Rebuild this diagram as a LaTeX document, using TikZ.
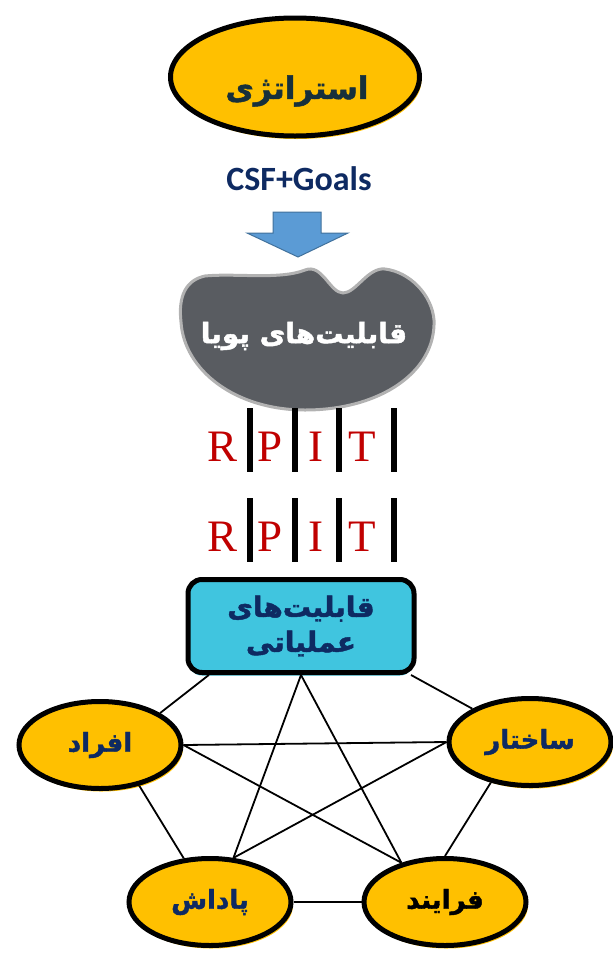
\documentclass[tikz,border=0pt]{standalone}
\usepackage{fontspec}
\usepackage{tikz}
\usetikzlibrary{shapes.geometric,shadows}
\TeXXeTstate=1
\newfontfamily\arabicfont[Script=Arabic, FakeBold=1.6]{DejaVu Sans Bold}
\newfontfamily\latinsans{Carlito}
\newfontfamily\latinserif{Liberation Serif}
\newcommand{\fatext}[1]{{\arabicfont\beginR #1\endR}}

\definecolor{gold}{HTML}{FFC000}
\definecolor{navytext}{HTML}{0E2A62}
\definecolor{darktext}{HTML}{17303B}
\definecolor{opscyan}{HTML}{40C5DF}
\definecolor{dyngray}{HTML}{595C61}
\definecolor{arrowblue}{HTML}{5B9BD5}
\definecolor{arrowedge}{HTML}{41719C}
\definecolor{rpitred}{HTML}{C00000}

\begin{document}
\begin{tikzpicture}[x=1pt,y=-1pt,
    oval/.style={ellipse, draw=black, line width=5pt, fill=gold,
        minimum width=162pt, minimum height=87pt, inner sep=0pt,
        font=\fontsize{26}{30}\selectfont,
        drop shadow={fill=gold, opacity=1, shadow xshift=2pt, shadow yshift=-3pt}},
    rpit/.style={text=rpitred, font=\latinserif\fontsize{45}{50}\selectfont, inner sep=0pt},
    link/.style={draw=black, line width=1.8pt}]

\useasboundingbox (0,0) rectangle (613,956);

% Strategy
\node[oval, minimum width=249pt, minimum height=118pt] (strategy) at (295,77) {};
\node[text=darktext, font=\fontsize{31}{36}\selectfont] (strategytext) at (297,91) {\fatext{استراتژی}};
\node[text=navytext, font=\latinsans\bfseries\fontsize{34}{40}\selectfont] (csf) at (299,179) {CSF+Goals};

% Blue arrow
\draw[fill=arrowblue, draw=arrowedge, line width=1pt]
    (273,212) -- (321,212) -- (321,233) -- (348,233) -- (298,257)
    -- (247,233) -- (273,233) -- cycle;

% Dynamic capabilities
\draw[fill=dyngray, draw=black!30, line width=3pt]
    (181,322) .. controls (178,296) and (186,280) .. (205,276)
    .. controls (235,273) and (280,280) .. (305,270)
    .. controls (322,263) and (330,293) .. (343,293)
    .. controls (356,293) and (368,267) .. (385,269)
    .. controls (410,272) and (432,295) .. (434,320)
    .. controls (436,372) and (380,410) .. (305,410)
    .. controls (235,410) and (184,370) .. (181,322) -- cycle;
\node[text=white, font=\fontsize{28}{32}\selectfont] (dyn) at (304,336) {\fatext{قابلیت‌های پویا}};

% RPIT rows
\foreach \row/\y in {1/447, 2/537} {
    \foreach \l/\x in {R/223, P/270, I/316, T/362}
        \node[rpit] (r\row\l) at (\x,\y) {\l};
    \foreach \x in {250, 295, 339, 394}
        \fill (\x-3,\y-39) rectangle (\x+3,\y+25);
}

% Operational capabilities
\node[draw=black, line width=5pt, fill=opscyan, rounded corners=14pt,
      minimum width=226pt, minimum height=93pt, align=center, text=navytext,
      font=\fontsize{28}{35}\selectfont,
      drop shadow={fill=opscyan, opacity=1, shadow xshift=0pt, shadow yshift=-3pt}]
      (ops) at (301,626) {\fatext{قابلیت‌های}\\\fatext{عملیاتی}};

% Four elements
\node[oval, text=navytext] (afrad) at (100,745) {\fatext{افراد}};
\node[oval, text=navytext] (sakhtar) at (530,742) {\fatext{ساختار}};
\node[oval, text=navytext] (padash) at (210,902) {\fatext{پاداش}};
\node[oval, text=black] (farayand) at (445,902) {\fatext{فرایند}};

% Links
\draw[link] (ops.208) -- (afrad.28);
\draw[link] (ops.-24) -- (sakhtar.150);
\draw[link] (ops.south) -- (padash.62);
\draw[link] (ops.south) -- (farayand.138);
\draw[link] (afrad.east) -- (sakhtar.west);
\draw[link] (afrad.east) -- (farayand.138);
\draw[link] (afrad.-46) -- (padash.121);
\draw[link] (sakhtar.west) -- (padash.62);
\draw[link] (sakhtar.226) -- (farayand.north);
\draw[link] (padash.east) -- (farayand.west);

\end{tikzpicture}
\end{document}
